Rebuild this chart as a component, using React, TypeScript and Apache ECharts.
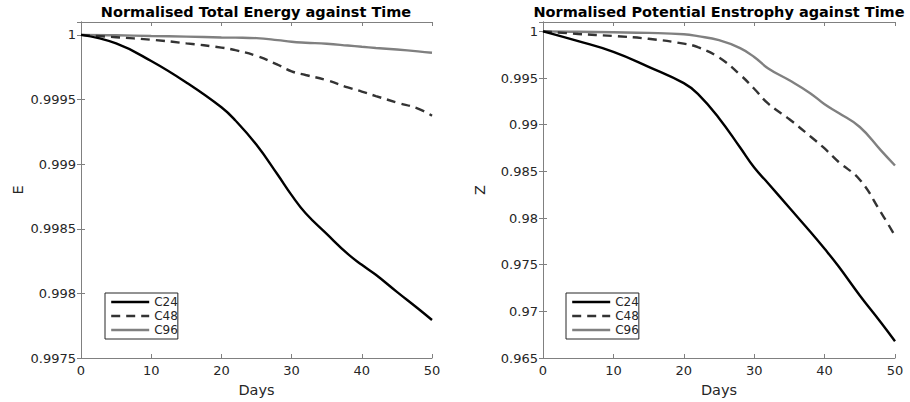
import React, { useEffect, useRef } from "react";
import * as echarts from "echarts";

const days = [0, 5, 10, 15, 20, 22, 25, 28, 30, 32, 35, 38, 40, 42, 45, 48, 50];
const seriesNames = ["C24", "C48", "C96"];

const energyC24 = [1, 0.999934, 0.999798, 0.999632, 0.99944, 0.999338, 0.99915, 0.99892, 0.99876, 0.99862, 0.99846, 0.998305, 0.998221, 0.998144, 0.998012, 0.997883, 0.997794];
const energyC48 = [1, 0.999982, 0.999963, 0.999935, 0.999902, 0.999882, 0.999838, 0.99977, 0.999718, 0.99969, 0.99965, 0.999594, 0.999562, 0.999527, 0.999477, 0.99943, 0.999375];
const energyC96 = [1, 0.999997, 0.999992, 0.999987, 0.99998, 0.999979, 0.999975, 0.99996, 0.999947, 0.99994, 0.999932, 0.999918, 0.999908, 0.999899, 0.999887, 0.999873, 0.999862];

const enstC24 = [1, 0.99895, 0.9978, 0.9962, 0.99445, 0.9933, 0.9907, 0.98755, 0.9854, 0.9837, 0.9811, 0.9785, 0.9767, 0.9748, 0.9717, 0.9688, 0.9668];
const enstC48 = [1, 0.99972, 0.9995, 0.9992, 0.99868, 0.9983, 0.9972, 0.99535, 0.99385, 0.99225, 0.99058, 0.98873, 0.98745, 0.986, 0.9841, 0.9806, 0.9781];
const enstC96 = [1, 0.99995, 0.9999, 0.99983, 0.99968, 0.99948, 0.99905, 0.9982, 0.99725, 0.99602, 0.99475, 0.99335, 0.99218, 0.99125, 0.98975, 0.98725, 0.98562];

const titles = ["Normalised Total Energy against Time", "Normalised Potential Enstrophy against Time"];
const yNames = ["E", "Z"];
const xName = "Days";

const FONT = "DejaVu Sans";
const TEXT = "#262626";
const AXIS = "#808080";

const styles = [
  { color: "#000000", type: "solid" },
  { color: "#333333", type: [9, 6] },
  { color: "#808080", type: "solid" },
];

function pairs(vals: number[]) {
  return days.map((d, i) => [d, vals[i]]);
}

export default function App() {
  const ref = useRef<HTMLDivElement>(null);
  useEffect(() => {
    if (!ref.current) return;
    const chart = echarts.init(ref.current, undefined, { renderer: "svg" });
    const grids = [
      { left: 81, top: 22, width: 351, height: 338 },
      { left: 543, top: 22, width: 352, height: 338 },
    ];
    const yRanges = [
      { min: 0.9975, max: 1.0001, interval: 0.0005, dec: 4 },
      { min: 0.965, max: 1.001, interval: 0.005, dec: 3 },
    ];
    const xAxes: any[] = [];
    const yAxes: any[] = [];
    grids.forEach((_, g) => {
      xAxes.push({
        type: "value", gridIndex: g, position: "bottom", min: 0, max: 50, interval: 10,
        name: xName, nameLocation: "middle", nameGap: 24, nameMoveOverlap: false,
        nameTextStyle: { fontFamily: FONT, fontSize: 14.5, color: TEXT },
        axisLine: { show: true, lineStyle: { color: AXIS, width: 1 } },
        axisTick: { show: true, inside: true, length: 4, lineStyle: { color: AXIS } },
        axisLabel: { fontFamily: FONT, fontSize: 13, color: TEXT, margin: 6 },
        splitLine: { show: false },
      });
      xAxes.push({
        type: "value", gridIndex: g, position: "top", min: 0, max: 50, interval: 10,
        axisLine: { show: true, lineStyle: { color: AXIS, width: 1 } },
        axisTick: { show: true, inside: true, length: 4, lineStyle: { color: AXIS } },
        axisLabel: { show: false },
        splitLine: { show: false },
      });
      const r = yRanges[g];
      yAxes.push({
        type: "value", gridIndex: g, position: "left", min: r.min, max: r.max, interval: r.interval,
        name: yNames[g], nameLocation: "middle", nameGap: 56, nameMoveOverlap: false,
        nameTextStyle: { fontFamily: FONT, fontSize: 14.5, color: TEXT },
        axisLine: { show: true, lineStyle: { color: AXIS, width: 1 } },
        axisTick: { show: true, inside: true, length: 4, lineStyle: { color: AXIS } },
        axisLabel: {
          fontFamily: FONT, fontSize: 13, color: TEXT, margin: 5, showMaxLabel: false,
          formatter: (v: number) => String(+v.toFixed(r.dec)),
        },
        splitLine: { show: false },
      });
      yAxes.push({
        type: "value", gridIndex: g, position: "right", min: r.min, max: r.max, interval: r.interval,
        axisLine: { show: true, lineStyle: { color: AXIS, width: 1 } },
        axisTick: { show: true, inside: true, length: 4, lineStyle: { color: AXIS } },
        axisLabel: { show: false },
        splitLine: { show: false },
      });
    });

    const dataSets = [
      [energyC24, energyC48, energyC96],
      [enstC24, enstC48, enstC96],
    ];
    const series: any[] = [];
    dataSets.forEach((set, g) => {
      set.forEach((vals, i) => {
        series.push({
          type: "line", name: seriesNames[i], xAxisIndex: g * 2, yAxisIndex: g * 2,
          data: pairs(vals), showSymbol: false, symbol: "none", smooth: 0.45,
          lineStyle: { color: styles[i].color, width: 2.4, type: styles[i].type },
          itemStyle: { color: styles[i].color },
          z: 3 - i,
        });
      });
    });

    const legendBase = {
      orient: "vertical", top: 293, itemWidth: 38, itemHeight: 14, itemGap: 0, itemTextGap: 4,
      padding: [2, 0, 2, 5], borderColor: TEXT, borderWidth: 1, backgroundColor: "#fff",
      itemStyle: { opacity: 0 },
      lineStyle: { width: 2.4 },
      textStyle: { fontFamily: FONT, fontSize: 12, color: TEXT, lineHeight: 14 },
      selectedMode: false, data: seriesNames,
    };

    chart.setOption({
      animation: false,
      backgroundColor: "#ffffff",
      title: [
        { text: titles[0], left: 256, top: 4, textAlign: "center", padding: 0,
          textStyle: { fontFamily: FONT, fontSize: 14.5, fontWeight: "bold", color: "#000" } },
        { text: titles[1], left: 719, top: 4, textAlign: "center", padding: 0,
          textStyle: { fontFamily: FONT, fontSize: 14.5, fontWeight: "bold", color: "#000" } },
      ],
      legend: [
        { ...legendBase, left: 105 },
        { ...legendBase, left: 566 },
      ],
      grid: grids,
      xAxis: xAxes,
      yAxis: yAxes,
      series,
    });
    return () => chart.dispose();
  }, []);
  return <div ref={ref} style={{ width: 910, height: 402, position: "absolute", left: 0, top: 0 }} />;
}
